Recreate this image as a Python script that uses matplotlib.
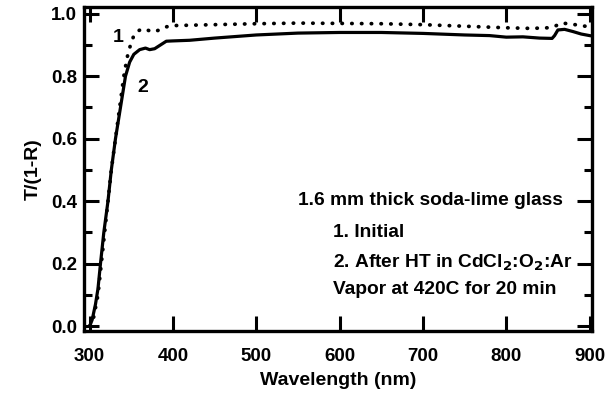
import matplotlib
matplotlib.use("Agg")
import matplotlib.pyplot as plt
from matplotlib.ticker import MultipleLocator

plt.rcParams['font.family'] = ['Liberation Sans', 'DejaVu Sans']
plt.rcParams['font.weight'] = 'bold'

# --- data ---
# curve 1: initial (dotted)
wl_initial = [300, 305, 310, 314, 318, 322, 326, 331, 336, 341, 345, 349, 353, 358,
              364, 370, 376, 384, 392, 400, 450, 500, 550, 600, 650, 700, 750, 800,
              830, 850, 860, 866, 875, 890, 900]
t_initial = [0.0, 0.03, 0.1, 0.2, 0.3, 0.4, 0.5, 0.6, 0.7, 0.8, 0.86, 0.9, 0.93, 0.945,
             0.952, 0.947, 0.942, 0.948, 0.958, 0.962, 0.965, 0.968, 0.97, 0.969, 0.968,
             0.965, 0.96, 0.955, 0.953, 0.955, 0.962, 0.97, 0.968, 0.962, 0.958]

# curve 2: after HT (solid)
wl_ht = [300, 303, 307, 310, 313, 317, 322, 326, 331, 337, 343, 348, 353, 360, 367,
         372, 378, 385, 392, 400, 420, 450, 500, 550, 600, 650, 700, 750, 780, 800,
         820, 840, 855, 858, 862, 870, 880, 890, 900]
t_ht = [0.0, 0.02, 0.07, 0.12, 0.2, 0.3, 0.4, 0.5, 0.6, 0.7, 0.8, 0.845, 0.87, 0.885,
        0.89, 0.885, 0.888, 0.9, 0.912, 0.913, 0.915, 0.922, 0.932, 0.938, 0.94, 0.94,
        0.937, 0.932, 0.93, 0.925, 0.926, 0.922, 0.921, 0.93, 0.948, 0.95, 0.943,
        0.935, 0.93]

notes = ["1.6 mm thick soda-lime glass",
         "1. Initial",
         r"2. After HT in CdCl$_\mathbf{2}$:O$_\mathbf{2}$:Ar",
         "Vapor at 420C for 20 min"]

fig = plt.figure(figsize=(6.06, 3.98), dpi=100)
ax = fig.add_axes([0.139, 0.168, 0.838, 0.814])

ax.plot(wl_initial, t_initial, color='black', lw=2.7, linestyle=(0, (0.1, 2.5)),
        dash_capstyle='round')
ax.plot(wl_ht, t_ht, color='black', lw=2.3)

ax.text(334, 0.925, "1", fontsize=14, fontweight='bold', ha='center', va='center')
ax.text(364, 0.765, "2", fontsize=14, fontweight='bold', ha='center', va='center')

ax.text(0.421, 0.404, notes[0], transform=ax.transAxes, fontsize=13.8,
        fontweight='bold', va='center')
ax.text(0.49, 0.306, notes[1], transform=ax.transAxes, fontsize=13.8,
        fontweight='bold', va='center')
ax.text(0.49, 0.21, notes[2], transform=ax.transAxes, fontsize=13.8,
        fontweight='bold', va='center')
ax.text(0.49, 0.127, notes[3], transform=ax.transAxes, fontsize=13.8,
        fontweight='bold', va='center')

ax.set_xlim(293.5, 903)
ax.set_ylim(-0.016, 1.021)
ax.xaxis.set_major_locator(MultipleLocator(100))
ax.yaxis.set_major_locator(MultipleLocator(0.2))
ax.yaxis.set_minor_locator(MultipleLocator(0.1))
ax.yaxis.set_major_formatter(plt.FuncFormatter(lambda v, p: f"{v:.1f}"))

ax.tick_params(which='both', direction='in', top=True, right=True, width=2.2,
               labelsize=13.5, colors='black')
ax.tick_params(which='major', length=11)
ax.tick_params(which='minor', length=5.5)
ax.tick_params(axis='x', which='major', pad=12)
ax.tick_params(axis='y', which='major', pad=5)
for s in ax.spines.values():
    s.set_linewidth(2.4)

ax.set_xlabel("Wavelength (nm)", fontsize=14, fontweight='bold', labelpad=5)
ax.set_ylabel("T/(1-R)", fontsize=14, fontweight='bold', labelpad=7)

plt.savefig("out.png", dpi=100)
